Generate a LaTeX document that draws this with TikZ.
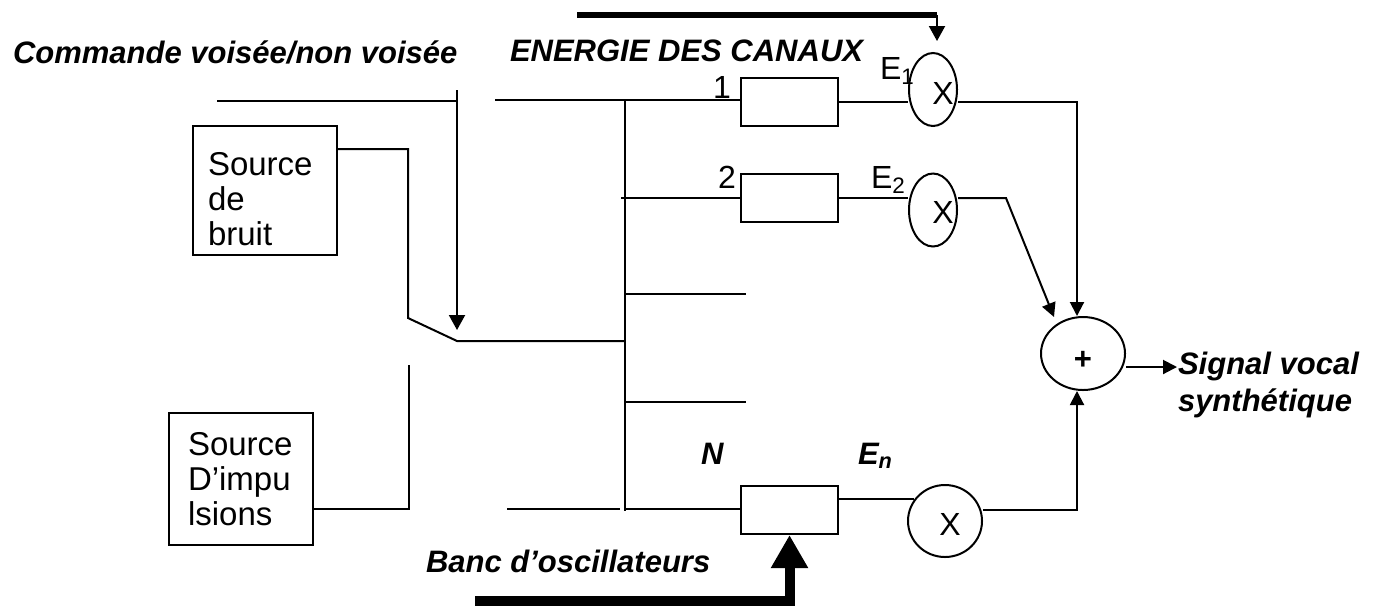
\documentclass[tikz,border=0pt]{standalone}
\usepackage{fontspec}
\setmainfont{Liberation Sans}
\usetikzlibrary{arrows.meta,shapes.geometric}
\newcommand{\txtfont}{\fontsize{16}{17.5}\selectfont}
\newcommand{\srcfont}{\fontsize{16.5}{17.5}\selectfont}
\newcommand{\titfont}{\fontsize{15.5}{18.5}\selectfont\bfseries\itshape}

\begin{document}
\begin{tikzpicture}[x=0.5pt,y=-0.5pt, line width=1pt,
    filtre/.style={draw, minimum width=48.5pt, minimum height=24pt, inner sep=0pt},
    mult/.style={draw, ellipse, inner sep=0pt, minimum width=24pt, minimum height=36.5pt},
    source/.style={draw, align=left, font=\srcfont, text width=57pt, inner xsep=7.5pt, minimum height=64.5pt},
    titre/.style={font=\titfont, inner sep=0pt, anchor=base west},
    etiq/.style={font=\txtfont, inner sep=0pt},
    fleche/.style={-{Triangle[width=7pt,length=7pt]}}]
    \useasboundingbox (0,0) rectangle (1380,607);

    % sources et commutateur
    \node[source] (bruit) at (265,190.5) {\rule{0pt}{20pt}Source\\de\\bruit};
    \node[source, text width=53pt, inner xsep=9.5pt, minimum height=66pt] (impul) at (241,479) {Source\\D’impu\\lsions};
    \node[titre] (cmd) at (12,63) {Commande voisée/non voisée};
    \coordinate (cmdTop) at (457,90);
    \coordinate (cmdTip) at (457,330);
    \draw[-{Triangle[width=8pt,length=7.5pt]}] (cmdTop) -- (cmdTip);
    \coordinate (ligG) at (217,101);
    \draw (ligG) -- (ligG -| cmdTop);
    \coordinate (brA) at (408,149);
    \coordinate (brB) at (408,318);
    \coordinate (pivot) at (457,341);
    \coordinate (imA) at (409,509);
    \coordinate (imB) at (409,365);
    \draw (bruit.east |- brA) -- (brA) -- (brB) -- (pivot) -- (pivot -| 625,0);
    \draw (impul.east |- imA) -- (imA) -- (imB);

    % banc de filtres
    \node[filtre] (F1) at (789.5,102) {};
    \node[filtre] (F2) at (789.5,197.5) {};
    \node[filtre] (FN) at (789.5,510) {};
    \node[etiq, anchor=base] (n1) at (722,98) {1};
    \node[etiq, anchor=base] (n2) at (727,188) {2};
    \node[titre] (nN) at (700,464) {N};
    \coordinate (busTop) at (625,100);
    \coordinate (busBot) at (625,511);
    \draw (busTop) -- (busBot);
    \coordinate (c1G) at (495,100);
    \draw (c1G) -- (c1G -| F1.west);
    \coordinate (c2G) at (621,198);
    \draw (c2G) -- (c2G -| F2.west);
    \foreach \y/\n in {294/c3,402/c4} {\coordinate (\n) at (746,\y); \draw (busTop |- \n) -- (\n);}
    \coordinate (cNG) at (507,509);
    \coordinate (cNM) at (620,509);
    \draw (cNG) -- (cNM);
    \draw (busTop |- cNM) -- (FN.west |- cNM);

    % multiplieurs
    \node[mult, label={[etiq, xshift=5pt, yshift=-1.75pt]center:X}] (X1) at (933,89.5) {};
    \node[mult, label={[etiq, xshift=5pt, yshift=-1pt]center:X}] (X2) at (933,210) {};
    \node[mult, minimum width=37pt, minimum height=36pt, label={[etiq, xshift=2.5pt, yshift=-1.5pt]center:X}] (Xn) at (945,521) {};
    \node[etiq, anchor=base west] (e1) at (879,79) {E\textsubscript{1}};
    \node[etiq, anchor=base west] (e2) at (870,188) {E\textsubscript{2}};
    \node[titre] (eN) at (857,464) {E\textsubscript{n}};
    \draw (F1.east) -- (F1.east -| X1.west);
    \draw (F2.east) -- (F2.east -| X2.west);
    \coordinate (nIn) at (914,499);
    \draw (FN.east |- nIn) -- (nIn);

    % energie des canaux
    \node[titre] (nrj) at (509,61) {ENERGIE DES CANAUX};
    \coordinate (nrjG) at (577,15);
    \coordinate (nrjD) at (937,15);
    \draw[line width=3pt] (nrjG) -- (nrjD);
    \draw[-{Triangle[width=8pt,length=7.5pt]}, shorten >=5.5pt] (nrjD) -- (nrjD |- X1.north);

    % oscillateurs
    \node[titre] (banc) at (425,572) {Banc d’oscillateurs};
    \coordinate (bancG) at (475,601);
    \draw[line width=5pt, -{Triangle[width=17.5pt,length=16.5pt]}] (bancG) -| (FN.south);

    % sommateur
    \node[mult, minimum width=42pt, minimum height=36.5pt,
      label={[font=\fontsize{15.5}{15.5}\selectfont\bfseries, inner sep=0pt, yshift=-3.25pt]center:+}] (som) at (1083,353.5) {};
    \coordinate (r1) at (1077,102);
    \draw[fleche] (X1.east |- r1) -- (r1) -- (r1 |- som.north);
    \coordinate (r2) at (1006,198);
    \coordinate (s2) at (1054,317);
    \draw[fleche] (X2.east |- r2) -- (r2) -- (s2);
    \coordinate (rN) at (1077,510);
    \draw[fleche] (Xn.east |- rN) -- (rN) -- (rN |- som.south);
    \coordinate (sortie) at (1177,367);
    \draw[fleche] (som.east |- sortie) -- (sortie);
    \node[titre, align=left, anchor=north west] (sig) at (1177,351) {Signal vocal\\synthétique};
  \end{tikzpicture}
\end{document}
